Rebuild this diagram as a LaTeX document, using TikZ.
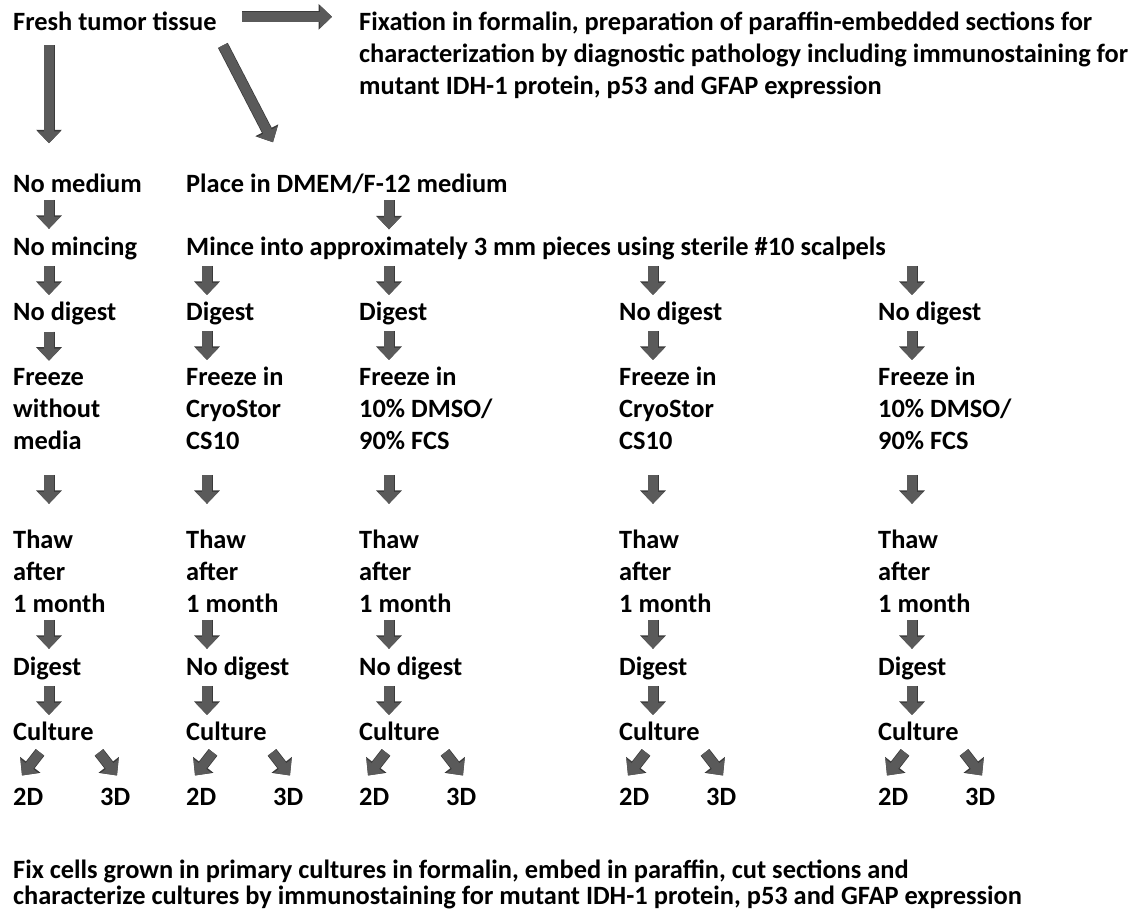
\documentclass[tikz,border=0pt]{standalone}
\usepackage{fontspec}
\setmainfont{Carlito}
\usetikzlibrary{arrows.meta,calc}
\definecolor{arrowgray}{HTML}{5A5A5A}
\definecolor{arrowedge}{HTML}{3A3A3A}
\tikzset{
  lbl/.style={anchor=base west,inner sep=0pt,align=left,
    font=\bfseries\fontsize{26.4}{32}\selectfont},
  blk/.style={draw=arrowgray,line width=9.5pt,-{Triangle[width=22pt,length=12pt]},
    preaction={draw=arrowedge,line width=11pt,-{Triangle[width=25pt,length=13.5pt]}}}
}
\newcommand{\flowstep}[3]{\draw[blk] ($(#1.south -| #3)!0.5!(#2.north -| #3)$) ++(0,-14.5) -- ++(0,29);}

\begin{document}
\begin{tikzpicture}[x=1pt,y=-1pt]
    \useasboundingbox (0,0) rectangle (1135,911);
    \node[lbl] (fresh) at (13,30) {Fresh tumor tissue};
    \node[lbl] (fix) at (359,94) {Fixation in formalin, preparation of paraffin-embedded sections for\\
        characterization by diagnostic pathology including immunostaining for\\
        mutant IDH-1 protein, p53 and GFAP expression};
    \node[lbl] (med1) at (13,192) {No medium};
    \node[lbl] (place) at (186,192) {Place in DMEM/F-12 medium};
    \node[lbl] (minc1) at (13,255) {No mincing};
    \node[lbl] (mince) at (186,255) {Mince into approximately 3 mm pieces using sterile \#10 scalpels};
    \foreach \i/\x/\t in {1/13/No digest,2/186/Digest,3/359/Digest,4/619/No digest,5/878/No digest}
        \node[lbl] (dig\i) at (\x,320) {\t};
    \node[lbl] (frz1) at (13,449) {Freeze\\without\\media};
    \node[lbl] (frz2) at (186,449) {Freeze in\\CryoStor\\CS10};
    \node[lbl] (frz3) at (359,449) {Freeze in\\10\% DMSO/\\90\% FCS};
    \node[lbl] (frz4) at (619,449) {Freeze in\\CryoStor\\CS10};
    \node[lbl] (frz5) at (878,449) {Freeze in\\10\% DMSO/\\90\% FCS};
    \foreach \i/\x/\a/\t in {1/13/49/Digest,2/186/207/No digest,3/359/389/No digest,
        4/619/653/Digest,5/878/912/Digest}{
        \coordinate (ax\i) at (\a,0);
        \node[lbl] (thaw\i) at (\x,612) {Thaw\\after\\1 month};
        \node[lbl] (dga\i) at (\x,675) {\t};
        \node[lbl] (cult\i) at (\x,740) {Culture};
        \node[lbl] (twoD\i) at (\x,805) {2D};
        \node[lbl] (threeD\i) at (\x+87,805) {3D};
    }
    \node[lbl,font=\bfseries\fontsize{26.4}{26}\selectfont] (fixcells) at (13,904)
        {Fix cells grown in primary cultures in formalin, embed in paraffin, cut sections and\\
        characterize cultures by immunostaining for mutant IDH-1 protein, p53 and GFAP expression};

    \draw[blk] ($(fresh.east)+(25,-4)$) -- ($(fresh.east -| fix.west)+(-27,-4)$);
    \draw[blk] ($(fresh.south -| ax1)+(0,15)$) -- ($(med1.north -| ax1)+(0,-30)$);
    \draw[blk] ($(fresh.south east)+(6,15)$) -- ($(place.north west)+(87,-31)$);
    \flowstep{med1}{minc1}{ax1}
    \flowstep{place}{mince}{ax3}
    \flowstep{minc1}{dig1}{ax1}
    \foreach \i in {2,...,5}{
        \flowstep{mince}{dig\i}{ax\i}
    }
    \foreach \i in {1,...,5}{
        \flowstep{dig\i}{frz\i}{ax\i}
        \flowstep{frz\i}{thaw\i}{ax\i}
        \flowstep{thaw\i}{dga\i}{ax\i}
        \flowstep{dga\i}{cult\i}{ax\i}
        \draw[blk] ($(cult\i.south west)+(27,12)$) -- ($(twoD\i.north west)+(9,-12)$);
        \draw[blk] ($(cult\i.south west)+(86,12)$) -- ($(threeD\i.north west)+(17,-12)$);
    }
\end{tikzpicture}
\end{document}
